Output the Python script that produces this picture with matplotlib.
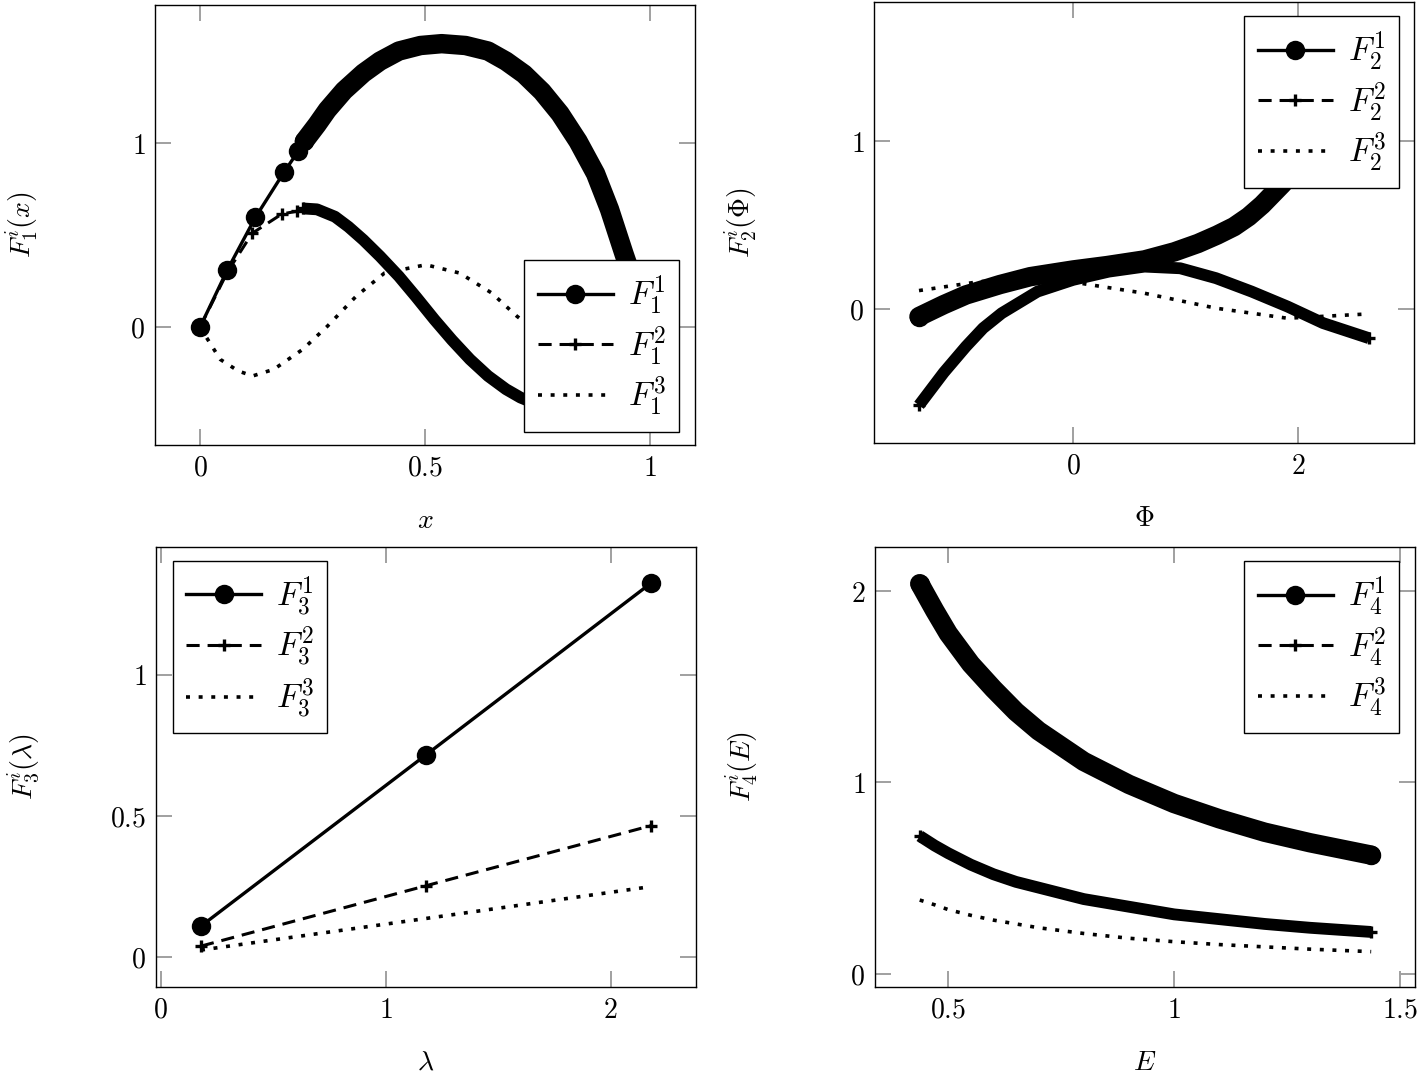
import matplotlib
matplotlib.use("Agg")
import matplotlib.pyplot as plt
from matplotlib.ticker import FixedLocator, FuncFormatter

plt.rcParams["mathtext.fontset"] = "cm"
plt.rcParams["font.family"] = ["DejaVu Serif"]

# ---- data ----
# top left: F_1^i(x)
x1_a = [0, 0.061, 0.123, 0.187, 0.218, 0.232, 0.26, 0.283, 0.32, 0.363, 0.40, 0.442, 0.49, 0.537,
        0.59, 0.640, 0.68, 0.72, 0.76, 0.80, 0.84, 0.879, 0.91, 0.942, 0.97, 1.0]
y1_a = [0, 0.312, 0.596, 0.843, 0.955, 1.01, 1.10, 1.18, 1.285, 1.38, 1.445, 1.50, 1.53, 1.54,
        1.53, 1.50, 1.445, 1.375, 1.28, 1.16, 1.01, 0.834, 0.64, 0.40, 0.20, 0.0]
x1_b = [0, 0.061, 0.116, 0.182, 0.216, 0.228, 0.26, 0.30, 0.33, 0.363, 0.40, 0.442, 0.48, 0.521,
        0.56, 0.60, 0.64, 0.68, 0.712, 0.75, 0.8, 0.9, 1.0]
y1_b = [0, 0.30, 0.51, 0.615, 0.63, 0.645, 0.64, 0.60, 0.545, 0.474, 0.385, 0.276, 0.165, 0.041,
        -0.07, -0.175, -0.265, -0.337, -0.382, -0.42, -0.44, -0.42, -0.35]
x1_c = [0, 0.045, 0.085, 0.117, 0.164, 0.228, 0.283, 0.347, 0.41, 0.502, 0.577, 0.648, 0.704, 0.8, 0.9, 1.0]
y1_c = [0, -0.175, -0.238, -0.265, -0.229, -0.121, 0.005, 0.168, 0.294, 0.339, 0.294, 0.186, 0.06, -0.12, -0.2, -0.15]

# top right: F_2^i(Phi)
x2_a = [-1.37, -1.15, -0.952, -0.65, -0.381, 0, 0.3, 0.635, 0.9, 1.11, 1.28, 1.43, 1.56, 1.68, 1.857, 2.0,
        2.2, 2.4, 2.63]
y2_a = [-0.046, 0.025, 0.083, 0.145, 0.192, 0.232, 0.258, 0.292, 0.34, 0.39, 0.44, 0.49, 0.55, 0.62, 0.742,
        0.85, 1.0, 1.25, 1.61]
x2_b = [-1.37, -1.15, -0.952, -0.8, -0.635, -0.317, 0, 0.317, 0.635, 0.952, 1.27, 1.587, 1.905, 2.222, 2.63]
y2_b = [-0.575, -0.38, -0.224, -0.115, -0.026, 0.103, 0.173, 0.222, 0.252, 0.242, 0.183, 0.103, 0.014,
        -0.085, -0.175]
x2_c = [-1.37, -0.825, -0.4, 0.063, 0.635, 1.27, 1.905, 2.63]
y2_c = [0.109, 0.163, 0.17, 0.153, 0.093, 0.004, -0.056, -0.03]

# bottom left: F_3^i(lambda)
x3 = [0.18, 1.18, 2.18]
y3_a = [0.109, 0.716, 1.325]
y3_b = [0.038, 0.252, 0.465]
y3_c = [0.024, 0.136, 0.249]

# bottom right: F_4^i(E)
x4 = [0.437, 0.47, 0.5, 0.55, 0.6, 0.65, 0.7, 0.8, 0.9, 1.0, 1.1, 1.2, 1.3, 1.436]
y4_a = [2.04, 1.90, 1.78, 1.62, 1.49, 1.37, 1.27, 1.11, 0.99, 0.89, 0.81, 0.74, 0.685, 0.62]
y4_b = [0.72, 0.67, 0.63, 0.57, 0.52, 0.48, 0.45, 0.39, 0.35, 0.31, 0.285, 0.26, 0.24, 0.218]
y4_c = [0.385, 0.36, 0.335, 0.305, 0.28, 0.26, 0.24, 0.21, 0.185, 0.167, 0.152, 0.14, 0.128, 0.115]


def curve(ax, x, y, kind, label, band_from=None):
    # markers only where they stand apart; the dense run is drawn as one band
    if band_from is None:
        every = None
    else:
        every = list(range(band_from + 1)) + [len(x) - 1]
    if kind == 1:
        ln, = ax.plot(x, y, color="black", ls="-", lw=2.4, marker="o", ms=14, mew=0,
                      markevery=every, label=label)
        band_lw, cap = 14, "round"
    elif kind == 2:
        ln, = ax.plot(x, y, color="black", ls=(0, (4.3, 2.6)), lw=2.2, marker="+", ms=8.5,
                      mew=2.4, markevery=every, label=label)
        band_lw, cap = 8.5, "butt"
    else:
        ln, = ax.plot(x, y, color="black", ls=(0, (1.1, 2.4)), lw=2.6, label=label)
        band_lw = None
    if band_from is not None and band_lw:
        ax.plot(x[band_from:], y[band_from:], color="black", lw=band_lw,
                solid_capstyle=cap, solid_joinstyle="round")
    return ln


def style(ax, xt, yt, xl, yl, xlabel, ylabel):
    ax.set_xlim(*xl)
    ax.set_ylim(*yl)
    ax.xaxis.set_major_locator(FixedLocator(xt))
    ax.yaxis.set_major_locator(FixedLocator(yt))
    fmt = FuncFormatter(lambda v, p: "$%g$" % v)
    ax.xaxis.set_major_formatter(fmt)
    ax.yaxis.set_major_formatter(fmt)
    ax.tick_params(direction="in", length=11.5, width=1.4, color="#a0a0a0",
                   top=True, right=True, labelsize=20, pad=7)
    for s in ax.spines.values():
        s.set_linewidth(1.0)
    ax.set_xlabel(xlabel, fontsize=20)
    ax.set_ylabel(ylabel, fontsize=20)
    ax.xaxis.set_label_coords(0.5, -0.14)
    ax.yaxis.set_label_coords(-0.21, 0.5)


def legend(ax, handles, loc, anchor):
    lg = ax.legend(handles=handles, loc=loc, bbox_to_anchor=anchor, borderaxespad=0,
                   fontsize=24, numpoints=1, handlelength=2.25, handletextpad=0.45,
                   labelspacing=0.22, borderpad=0.4, fancybox=False, framealpha=1,
                   edgecolor="black")
    lg.get_frame().set_linewidth(1.0)


fig = plt.figure(figsize=(14.19, 10.78), dpi=100)
W, H = 1419, 1078
ax1 = fig.add_axes([155 / W, 1 - 445 / H, 540 / W, 440 / H])
ax2 = fig.add_axes([874 / W, 1 - 443 / H, 540 / W, 441 / H])
ax3 = fig.add_axes([156 / W, 1 - 987 / H, 540 / W, 440 / H])
ax4 = fig.add_axes([875 / W, 1 - 987 / H, 540 / W, 440 / H])

h = [curve(ax1, x1_a, y1_a, 1, r"$F_1^1$", 5),
     curve(ax1, x1_b, y1_b, 2, r"$F_1^2$", 5),
     curve(ax1, x1_c, y1_c, 3, r"$F_1^3$")]
style(ax1, [0, 0.5, 1], [0, 1], (-0.1, 1.1), (-0.64, 1.75), r"$x$", r"$F_1^i(x)$")
legend(ax1, h, "lower right", (0.97, 0.03))

h = [curve(ax2, x2_a, y2_a, 1, r"$F_2^1$", 0),
     curve(ax2, x2_b, y2_b, 2, r"$F_2^2$", 0),
     curve(ax2, x2_c, y2_c, 3, r"$F_2^3$")]
style(ax2, [0, 2], [0, 1], (-1.77, 3.03), (-0.80, 1.83), r"$\Phi$", r"$F_2^i(\Phi)$")
legend(ax2, h, "upper right", (0.972, 0.968))

h = [curve(ax3, x3, y3_a, 1, r"$F_3^1$"),
     curve(ax3, x3, y3_b, 2, r"$F_3^2$"),
     curve(ax3, x3, y3_c, 3, r"$F_3^3$")]
style(ax3, [0, 1, 2], [0, 0.5, 1], (-0.02, 2.38), (-0.107, 1.453), r"$\lambda$", r"$F_3^i(\lambda)$")
legend(ax3, h, "upper left", (0.031, 0.968))

h = [curve(ax4, x4, y4_a, 1, r"$F_4^1$", 0),
     curve(ax4, x4, y4_b, 2, r"$F_4^2$", 0),
     curve(ax4, x4, y4_c, 3, r"$F_4^3$")]
style(ax4, [0.5, 1, 1.5], [0, 1, 2], (0.338, 1.533), (-0.07, 2.232), r"$E$", r"$F_4^i(E)$")
legend(ax4, h, "upper right", (0.970, 0.968))

fig.savefig("out.png", dpi=100)
